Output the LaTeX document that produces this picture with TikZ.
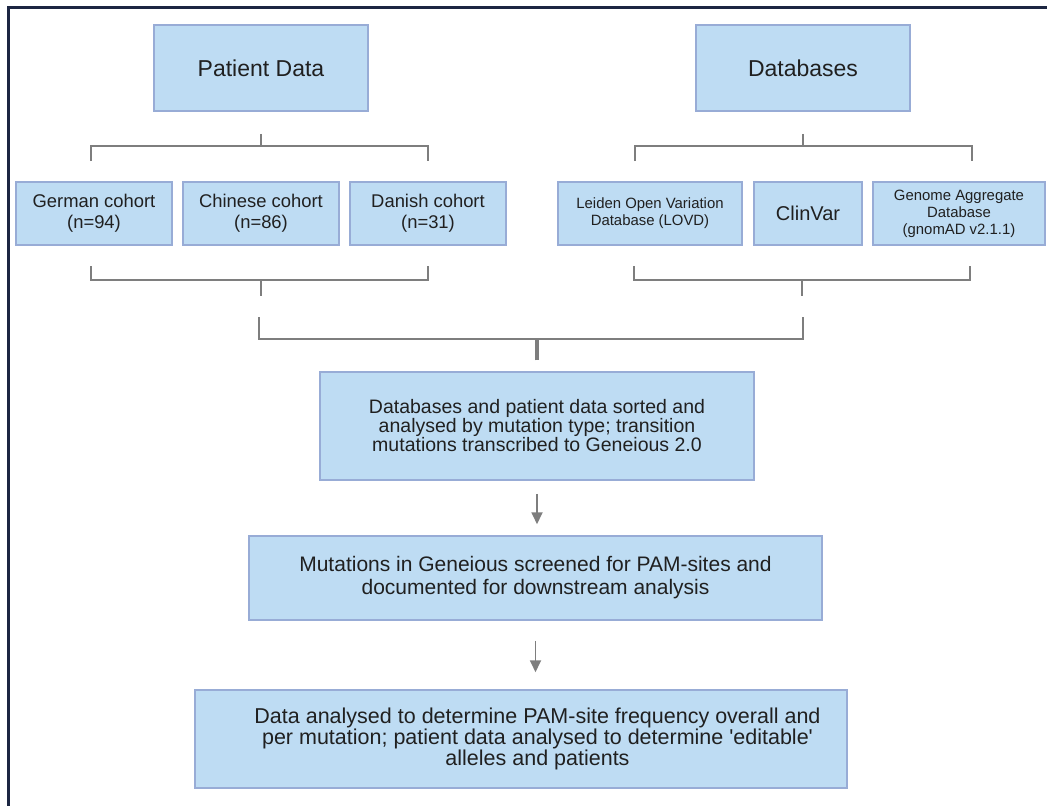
\documentclass[tikz,border=0pt]{standalone}
\usepackage{fontspec}
\setmainfont{Liberation Sans}
\usetikzlibrary{arrows.meta}

\definecolor{boxfill}{RGB}{190,220,243}
\definecolor{boxline}{RGB}{152,172,214}
\definecolor{linkgray}{RGB}{126,126,126}
\definecolor{framenavy}{RGB}{28,38,66}
\definecolor{inkdark}{RGB}{32,32,32}

\tikzset{
  stage/.style={draw=boxline, fill=boxfill, line width=1.5pt, align=center,
    text=inkdark, inner sep=0pt},
  source/.style={stage, minimum width=214pt, minimum height=86pt,
    font=\fontsize{23}{27}\selectfont},
  cohort/.style={stage, minimum width=156pt, minimum height=63pt,
    font=\fontsize{18.4}{21}\selectfont},
  dbase/.style={stage, minimum height=63pt, font=\fontsize{14.9}{17}\selectfont},
  link/.style={draw=linkgray, line width=2pt},
  flow/.style={draw=linkgray, line width=1.8pt, -{Triangle[length=12pt,width=11pt]}},
}

\begin{document}
\begin{tikzpicture}[x=1pt, y=-1pt]
	\useasboundingbox (0,0) rectangle (1047,806);
	\clip (0,0) rectangle (1047,806);
	
	% outer frame (runs off the right and bottom edge)
	\draw[framenavy, line width=3pt] (8,7) rectangle (1090,850);
	
	% 1. the two sources
	\node[source] (pd) at (261,68) {Patient Data};
	\node[source] (db) at (803,68) {Databases};
	
	% 2. patient cohorts
	\node[cohort] (german) at (94,213.5) {German cohort\\(n=94)};
	\node[cohort] (chinese) at (261,213.5) {Chinese cohort\\(n=86)};
	\node[cohort] (danish) at (428,213.5) {Danish cohort\\(n=31)};
	
	% 3. databases
	\node[dbase, minimum width=184pt] (lovd) at (650,213.5) {Leiden Open Variation\\Database (LOVD)};
	\node[dbase, minimum width=108pt, font=\fontsize{20}{24}\selectfont] (clinvar) at (808,213.5) {ClinVar};
	\node[dbase, minimum width=172pt] (gnomad) at (959,213.5) {Genome Aggregate\\Database\\(gnomAD v2.1.1)};
	
	% 4. processing steps
	\node[stage, minimum width=434pt, minimum height=108pt, font=\fontsize{19.5}{19}\selectfont] (sorted) at (537,426)
		{Databases and patient data sorted and\\analysed by mutation type; transition\\mutations transcribed to Geneious 2.0};
	\node[stage, minimum width=573pt, minimum height=84pt, font=\fontsize{21}{23}\selectfont] (screened) at (535.5,578)
		{Mutations in Geneious screened for PAM-sites and\\documented for downstream analysis};
	\node[stage, minimum width=652pt, minimum height=98pt, font=\fontsize{21.5}{21}\selectfont] (analysed) at (521,739)
		{\hspace*{33pt}\parbox{571pt}{\centering Data analysed to determine PAM-site frequency overall and\\per mutation; patient data analysed to determine \textquotesingle editable\textquotesingle\\alleles and patients}};
	
	% --- bracket end points ---
	\coordinate (pdL) at (91,161);   \coordinate (pdR) at (428,161);
	\coordinate (coL) at (91,266);   \coordinate (coR) at (428,266);
	\coordinate (dbL) at (635,161);  \coordinate (dbR) at (972,161);
	\coordinate (dlL) at (634,266);  \coordinate (dlR) at (970,266);
	\coordinate (allL) at (259,317); \coordinate (allR) at (803,317);
	
	% brackets under the sources
	\draw[link] ([yshift=-22pt]pd.south) -- ++(0,13);
	\draw[link] (pdL) -- ++(0,-15) -| (pdR);
	\draw[link] ([yshift=-22pt]db.south) -- ++(0,13);
	\draw[link] (dbL) -- ++(0,-15) -| (dbR);
	
	% brackets under the cohorts and databases
	\draw[link] (coL) -- ++(0,14) -| (coR);
	\draw[link] (chinese.south) ++(0,35) -- ++(0,15);
	\draw[link] (dlL) -- ++(0,14) -| (dlR);
	\draw[link] (clinvar.south) ++(-6,35) -- ++(0,15);
	
	% joining bracket
	\draw[link] (allL) -- ++(0,22) -| (allR);
	\draw[link, line width=3.5pt] ([yshift=11pt]sorted.north) -- ++(0,-22);
	
	% arrows down the pipeline
	\draw[flow] ([yshift=-13pt]sorted.south) -- ([yshift=11pt]sorted.south |- screened.north);
	\draw[flow] ([yshift=-20pt]screened.south) -- ([yshift=17pt]screened.south |- analysed.north);
	
\end{tikzpicture}
\end{document}
